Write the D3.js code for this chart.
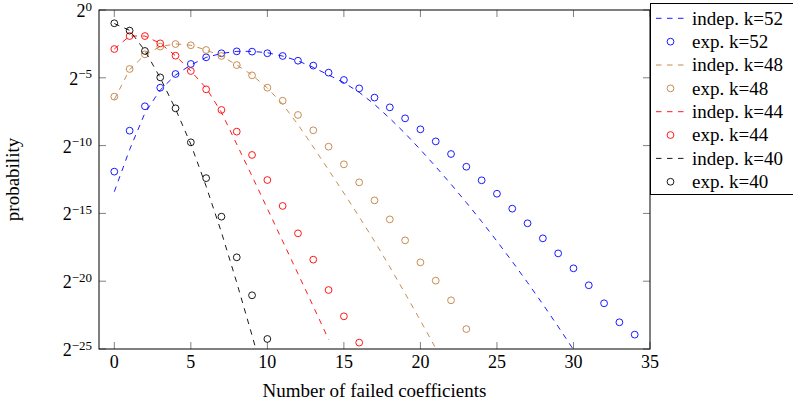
<!DOCTYPE html>
<html>
<head>
<meta charset="utf-8">
<script src="https://cdn.jsdelivr.net/npm/d3@7"></script>
<style>
    body {
        margin: 0;
        background: #fff;
    }
    svg text {
        font-family: "Liberation Serif", "Times New Roman", serif;
        fill: #000;
    }
    .tick-mark {
        stroke: #808080;
        stroke-width: 1px;
    }
    .indep {
        fill: none;
        stroke-width: 0.9px;
        stroke-dasharray: 5.5, 5.5;
    }
    .exp {
        fill: none;
        stroke-width: 0.9px;
    }
</style>
</head>
<body>
<svg width="793" height="402"></svg>
<script>
    // values are log2(probability)
    var xTicks = [0, 5, 10, 15, 20, 25, 30, 35];
    var yTickExps = [0, -5, -10, -15, -20, -25];

    var indepK52 = [-13.4, -10.3, -7.6, -5.9, -4.8, -4.05, -3.5, -3.2, -3.05, -3.05, -3.15, -3.4, -3.75, -4.23, -4.79, -5.36,
        -6.07, -6.96, -7.99, -9.1, -10.3, -11.55, -12.85, -14.2, -15.6, -17.05, -18.55, -20.1, -21.7, -23.35, -25.05];
    var expK52 = [-11.92, -8.9, -7.1, -5.73, -4.72, -3.98, -3.49, -3.19, -3.05, -3.07, -3.19, -3.39, -3.74, -4.1, -4.62, -5.16,
        -5.78, -6.46, -7.18, -7.99, -8.8, -9.69, -10.62, -11.56, -12.56, -13.55, -14.65, -15.73, -16.84, -17.95, -19.05,
        -20.3, -21.63, -23.03, -23.94];

    var indepK48 = [-6.6, -4.4, -3.3, -2.7, -2.5, -2.6, -2.95, -3.4, -4.05, -4.8, -5.75, -6.95, -8.45, -10.1, -11.8, -13.5,
        -15.25, -17.05, -18.95, -20.9, -22.9, -24.95];
    var expK48 = [-6.39, -4.35, -3.27, -2.7, -2.51, -2.6, -2.95, -3.39, -4.06, -4.82, -5.73, -6.69, -7.74, -8.87, -10.08,
        -11.38, -12.71, -14.04, -15.44, -16.99, -18.61, -19.96, -21.41, -23.53];

    var indepK44 = [-2.88, -1.92, -1.92, -2.46, -3.37, -4.5, -5.75, -7.55, -9.9, -12.25, -14.65, -17.05, -19.45, -21.85, -24.3];
    var expK44 = [-2.88, -1.92, -1.92, -2.46, -3.37, -4.5, -5.85, -7.37, -8.97, -10.69, -12.54, -14.45, -16.47, -18.41,
        -20.65, -22.59, -24.53];

    var indepK40 = [-1.0, -1.5, -3.0, -5.0, -7.3, -9.9, -13.0, -16.4, -20.1, -24.0, -28.0];
    var expK40 = [-0.98, -1.52, -3.02, -4.97, -7.25, -9.76, -12.4, -15.24, -18.24, -21.04, -24.26];

    var seriesNames = ["k=52", "k=48", "k=44", "k=40"];
    var seriesColors = ["#0000ff", "#bf8040", "#ff0000", "#000000"];
    var indepData = [indepK52, indepK48, indepK44, indepK40];
    var expData = [expK52, expK48, expK44, expK40];

    //------------------------------------------------------

    var svg = d3.select("svg"),
        margin = {
            top: 10,
            right: 143,
            bottom: 53,
            left: 99
        },
        width = +svg.attr("width") - margin.left - margin.right,
        height = +svg.attr("height") - margin.top - margin.bottom;

    var x = d3.scaleLinear().domain([-1, 35]).range([0, width]);
    var y = d3.scaleLog().base(2).domain([Math.pow(2, -25), 1]).range([height, 0]);

    var toPoints = function (arr) {
        return arr.map(function (v, i) {
            return { x: i, p: Math.pow(2, v) };
        });
    };

    var line = d3.line()
        .x(function (d) { return x(d.x); })
        .y(function (d) { return y(d.p); });

    var g = svg.append("g")
        .attr("transform", "translate(" + margin.left + "," + margin.top + ")");

    g.append("clipPath")
        .attr("id", "plot-clip")
        .append("rect")
        .attr("width", width)
        .attr("height", height);

    // ticks, inward on all four sides
    var tickLen = 7;
    xTicks.forEach(function (t) {
        g.append("line").attr("class", "tick-mark")
            .attr("x1", x(t)).attr("x2", x(t)).attr("y1", height).attr("y2", height - tickLen);
        g.append("line").attr("class", "tick-mark")
            .attr("x1", x(t)).attr("x2", x(t)).attr("y1", 0).attr("y2", tickLen);
        g.append("text")
            .attr("x", x(t))
            .attr("y", height + 19)
            .attr("text-anchor", "middle")
            .style("font-size", "18px")
            .text(t);
    });

    yTickExps.forEach(function (e) {
        var yy = y(Math.pow(2, e));
        g.append("line").attr("class", "tick-mark")
            .attr("x1", 0).attr("x2", tickLen).attr("y1", yy).attr("y2", yy);
        g.append("line").attr("class", "tick-mark")
            .attr("x1", width).attr("x2", width - tickLen).attr("y1", yy).attr("y2", yy);
        var lbl = g.append("text")
            .attr("x", -7)
            .attr("y", yy + 7)
            .attr("text-anchor", "end")
            .style("font-size", "18px");
        lbl.append("tspan").text("2");
        lbl.append("tspan")
            .attr("dy", -6.5)
            .style("font-size", "13px")
            .text(e === 0 ? "0" : "\u2212" + Math.abs(e));
    });

    // series
    var plot = g.append("g").attr("clip-path", "url(#plot-clip)");

    seriesNames.forEach(function (name, i) {
        plot.append("path")
            .datum(toPoints(indepData[i]))
            .attr("class", "indep")
            .attr("stroke", seriesColors[i])
            .attr("d", line);

        plot.selectAll(null)
            .data(toPoints(expData[i]))
            .enter().append("circle")
            .attr("class", "exp")
            .attr("stroke", seriesColors[i])
            .attr("cx", function (d) { return x(d.x); })
            .attr("cy", function (d) { return y(d.p); })
            .attr("r", 3.4);
    });

    // frame
    g.append("rect")
        .attr("x", 0)
        .attr("y", 0)
        .attr("width", width)
        .attr("height", height)
        .attr("fill", "none")
        .attr("stroke", "#000")
        .attr("stroke-width", 1);

    // axis titles
    g.append("text")
        .attr("x", width / 2)
        .attr("y", height + 48)
        .attr("text-anchor", "middle")
        .style("font-size", "19px")
        .text("Number of failed coefficients");

    g.append("text")
        .attr("transform", "translate(" + (-80) + "," + (height / 2) + ") rotate(-90)")
        .attr("text-anchor", "middle")
        .style("font-size", "19px")
        .text("probability");

    // legend
    var legend = svg.append("g")
        .attr("transform", "translate(" + (margin.left + width) + ",3.5)");

    legend.append("rect")
        .attr("x", 0.5)
        .attr("y", 0)
        .attr("width", 160)
        .attr("height", 191)
        .attr("fill", "#fff")
        .attr("stroke", "#000")
        .attr("stroke-width", 1);

    var rowH = 23.35;
    seriesNames.forEach(function (name, i) {
        var y1 = 14.8 + (2 * i) * rowH,
            y2 = y1 + rowH;
        legend.append("line")
            .attr("class", "indep")
            .attr("stroke", seriesColors[i])
            .attr("stroke-dasharray", "5,4.5")
            .attr("x1", 6).attr("x2", 35)
            .attr("y1", y1).attr("y2", y1);
        legend.append("text")
            .attr("x", 42)
            .attr("y", y1)
            .attr("dy", "0.33em")
            .style("font-size", "19px")
            .text("indep. " + name);

        legend.append("circle")
            .attr("class", "exp")
            .attr("stroke", seriesColors[i])
            .attr("cx", 20.5)
            .attr("cy", y2)
            .attr("r", 3.4);
        legend.append("text")
            .attr("x", 42)
            .attr("y", y2)
            .attr("dy", "0.33em")
            .style("font-size", "19px")
            .text("exp. " + name);
    });
</script>
</body>
</html>
